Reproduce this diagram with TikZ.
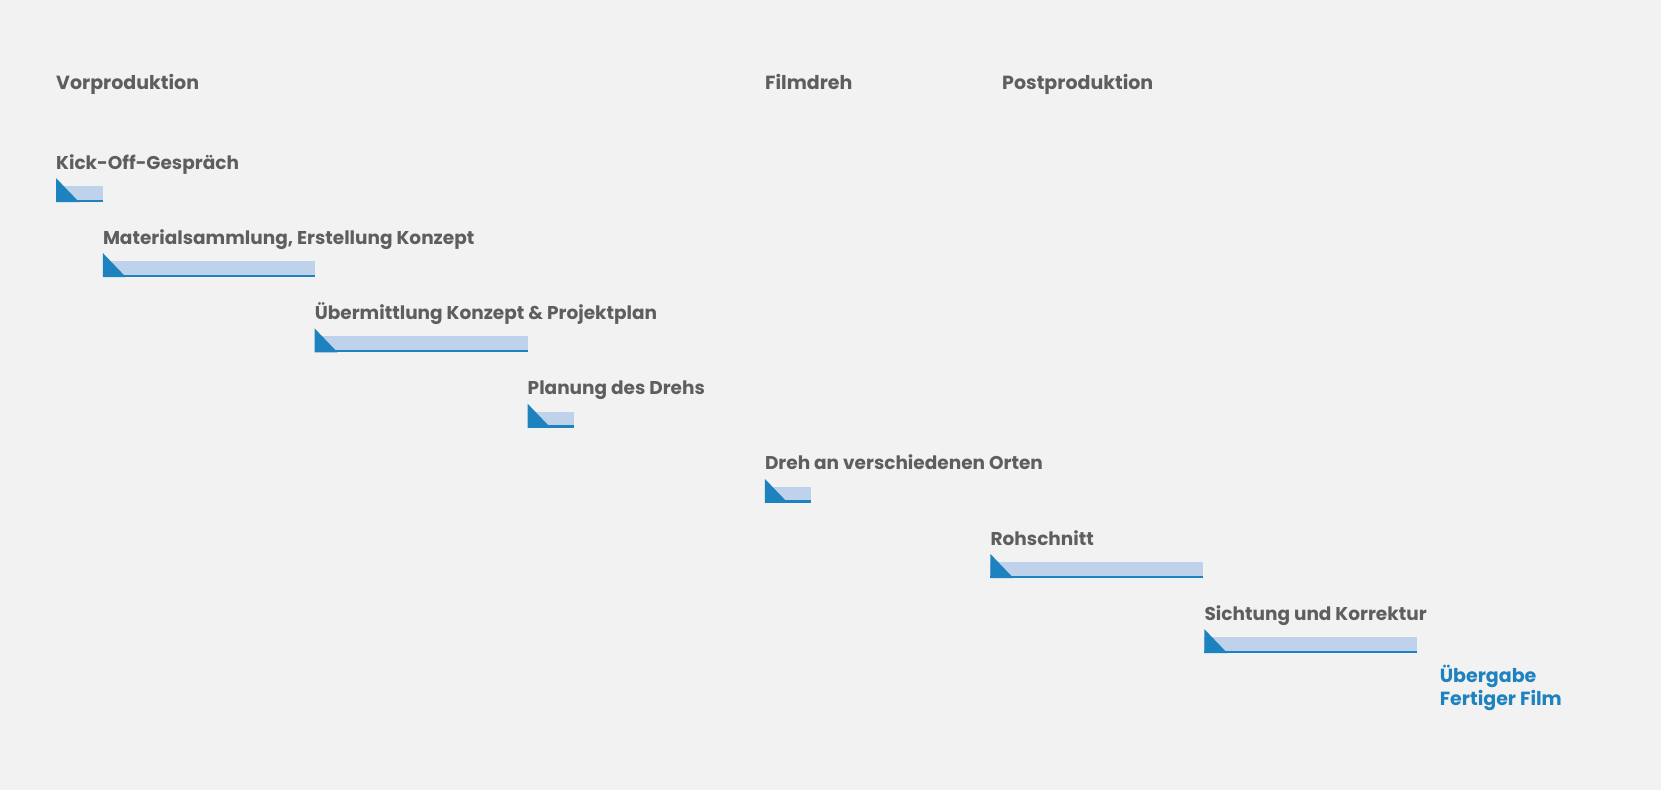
\documentclass[tikz,border=0pt]{standalone}
\usepackage{fontspec}
\setmainfont{Poppins}
\definecolor{bg}{HTML}{F2F2F2}
\definecolor{txt}{HTML}{5E5E5E}
\definecolor{dark}{HTML}{1E82BE}
\definecolor{light}{HTML}{BED2EB}
\tikzset{
  lbl/.style={anchor=base west, inner sep=0pt, text=txt, font=\fontsize{18.5}{22}\selectfont\bfseries},
  head/.style={anchor=base west, inner sep=0pt, text=txt, font=\fontsize{19}{22}\selectfont\bfseries},
  fin/.style={anchor=base west, inner sep=0pt, text=dark, font=\fontsize{19}{23.5}\selectfont\bfseries, align=left},
}
\newcommand{\ganttbar}[3]{% x start, x end, top
  \fill[light] (#1,#3+8) rectangle (#2,#3+22);
  \fill[dark] (#1,#3) -- (#1,#3+24) -- (#1+23,#3+24) -- cycle;
  \fill[dark] (#1,#3+21.5) rectangle (#2,#3+24);
}
\begin{document}
\begin{tikzpicture}[x=1pt,y=-1pt]
\fill[bg] (0,0) rectangle (1661,790);
\useasboundingbox (0,0) rectangle (1661,790);
\node[head] (h1) at (56,89) {Vorproduktion};
\node[head] (h2) at (765,89) {Filmdreh};
\node[head] (h3) at (1002,89) {Postproduktion};

\node[lbl] (t1) at (56,169) {Kick-Off-Gespräch};
\ganttbar{56}{102.8}{178}
\node[lbl] (t2) at (102.8,244) {Materialsammlung, Erstellung Konzept};
\ganttbar{102.8}{314.6}{253}
\node[lbl] (t3) at (314.6,319.5) {Übermittlung Konzept \& Projektplan};
\ganttbar{314.6}{527.5}{328.4}
\node[lbl] (t4) at (527.5,394.5) {Planung des Drehs};
\ganttbar{527.5}{574.1}{403.6}
\node[lbl] (t5) at (764.8,469.8) {Dreh an verschiedenen Orten};
\ganttbar{764.8}{811.4}{478.8}
\node[lbl] (t6) at (990.4,545) {Rohschnitt};
\ganttbar{990.4}{1203.3}{554}
\node[lbl] (t7) at (1204.4,620.2) {Sichtung und Korrektur};
\ganttbar{1204.4}{1417.3}{629.2}
\node[fin] (t8) at (1439.6,705.5) {Übergabe\\Fertiger Film};
\end{tikzpicture}
\end{document}
